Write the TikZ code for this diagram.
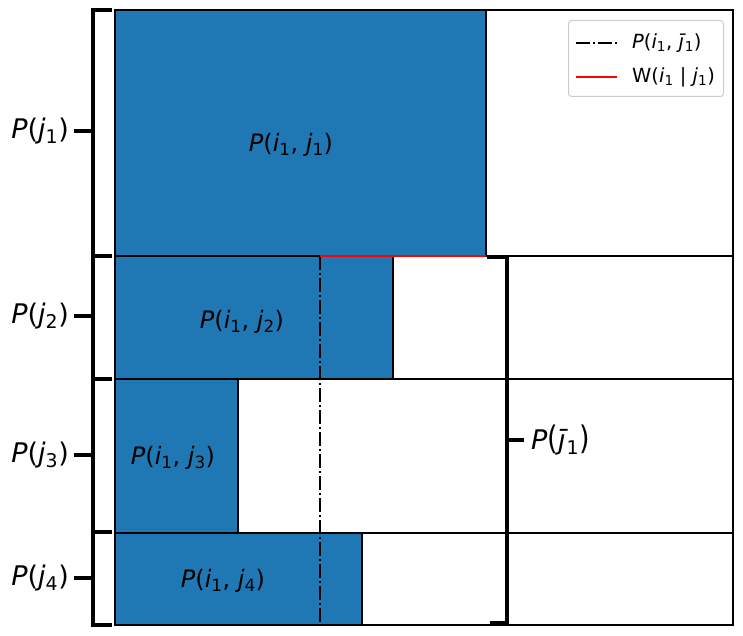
\documentclass[tikz,border=0pt]{standalone}
\usepackage{fontspec}
\setmainfont{DejaVu Sans}
\definecolor{mblue}{HTML}{1F77B4}
\definecolor{lgray}{HTML}{CCCCCC}
\newcommand\vP{\textit{P}}
\newcommand\vi{\textit{i}}
\newcommand\vj{\textit{j}}
\newcommand\vjb{\textit{\=\j}}
\newcommand\sone[1]{\textsubscript{#1}}
\tikzset{
  cell/.style={draw=black,line width=1.7pt},
  bluecell/.style={cell,fill=mblue},
  brack/.style={draw=black,line width=3.2pt,line cap=rect},
  ddot/.style={draw=black,line width=1.9pt,dash pattern=on 14pt off 3pt on 2pt off 3pt},
  redl/.style={red,line width=2.6pt},
  rlab/.style={font=\fontsize{27}{30}\selectfont,inner sep=0pt},
  clab/.style={font=\fontsize{24}{28}\selectfont,inner sep=0pt},
  leglab/.style={font=\fontsize{19.5}{22}\selectfont,inner sep=0pt,anchor=west}
}
\begin{document}
\begin{tikzpicture}[x=1pt,y=-1pt]
\useasboundingbox (0,0) rectangle (743,636);
% rows
\foreach \a/\b in {10/256,256/379,379/533,533/625}{
  \draw[cell] (115,\a) rectangle (733,\b);
}
\draw[bluecell] (115,10) rectangle (486,256);
\draw[bluecell] (115,256) rectangle (393,379);
\draw[bluecell] (115,379) rectangle (238,533);
\draw[bluecell] (115,533) rectangle (362,625);
% dash-dot line and red line
\coordinate (dtop) at (320,256);
\coordinate (dbot) at (320,625);
\coordinate (rend) at (486,256);
\draw[ddot] (dtop) -- (dbot);
\draw[redl] (dtop) -- (rend);
% blue labels
\node[clab] (l1) at (291,145) {\vP(\vi\sone{1}, \vj\sone{1})};
\node[clab] (l2) at (242,322) {\vP(\vi\sone{1}, \vj\sone{2})};
\node[clab] (l3) at (173,458) {\vP(\vi\sone{1}, \vj\sone{3})};
\node[clab] (l4) at (223,581) {\vP(\vi\sone{1}, \vj\sone{4})};
% left bracket
\draw[brack] (110,10) -- (93,10) -- (93,625) -- (110,625);
\foreach \y in {256,379,532}{\draw[brack] (93,\y) -- (110,\y);}
\node[rlab,anchor=east] (p1) at (69,131) {\vP(\vj\sone{1})};
\node[rlab,anchor=east] (p2) at (69,316) {\vP(\vj\sone{2})};
\node[rlab,anchor=east] (p3) at (69,455) {\vP(\vj\sone{3})};
\node[rlab,anchor=east] (p4) at (69,578) {\vP(\vj\sone{4})};
\foreach \y in {131,316,455,578}{\draw[brack,line cap=butt] (74,\y) -- (93,\y);}
% right bracket
\draw[brack,line cap=butt] (487,257) -- (507,257) -- (507,623) -- (490,623);
\node[rlab,anchor=west] (pb) at (531,440) {\vP\scalebox{1}[1.2]{(}\vjb\sone{1}\scalebox{1}[1.2]{)}};
\coordinate (tk) at (524,440);
\draw[brack,line cap=butt] (507,440) -- (tk);
% legend
\node[draw=lgray,fill=white,rounded corners=3pt,line width=1pt,minimum width=155pt,minimum height=76pt,anchor=north west] (leg) at (568,20) {};
\coordinate (h1a) at (576,43);
\coordinate (h1b) at (617,43);
\coordinate (h2a) at (576,77);
\coordinate (h2b) at (617,77);
\draw[ddot] (h1a) -- (h1b);
\draw[redl] (h2a) -- (h2b);
\node[leglab] (t1) at (632,43) {\vP(\vi\sone{1}, \vjb\sone{1})};
\node[leglab] (t2) at (632,77) {W(\vi\sone{1} | \vj\sone{1})};
\end{tikzpicture}
\end{document}
